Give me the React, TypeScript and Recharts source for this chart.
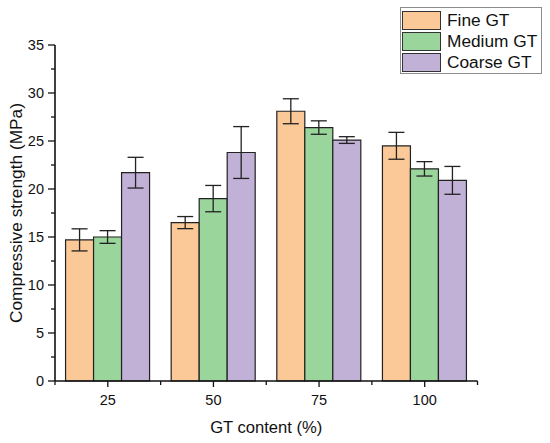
import React from 'react';
import { BarChart, Bar, XAxis, YAxis, ErrorBar, Legend, Label } from 'recharts';

const categories = ['25', '50', '75', '100'];
const fineValues = [14.7, 16.5, 28.1, 24.5];
const fineErrors = [1.15, 0.63, 1.3, 1.4];
const mediumValues = [15.0, 19.0, 26.4, 22.1];
const mediumErrors = [0.66, 1.37, 0.7, 0.75];
const coarseValues = [21.7, 23.8, 25.1, 20.9];
const coarseErrors = [1.6, 2.7, 0.35, 1.45];
const yMajorTicks = [0, 5, 10, 15, 20, 25, 30, 35];
const yMinorTicks = [2.5, 7.5, 12.5, 17.5, 22.5, 27.5, 32.5];

const seriesNames = ['Fine GT', 'Medium GT', 'Coarse GT'];
const seriesColors = ['#FBC898', '#9AD69B', '#C1B1D7'];

const data = categories.map((c, i) => ({
  category: c,
  fine: fineValues[i],
  fineErr: fineErrors[i],
  medium: mediumValues[i],
  mediumErr: mediumErrors[i],
  coarse: coarseValues[i],
  coarseErr: coarseErrors[i],
}));

const FONT = "Arial, 'Liberation Sans', sans-serif";
const AXIS_COLOR = '#111';

const YTick = (props: any) => {
  const { x, y, payload } = props;
  const major = yMajorTicks.includes(payload.value);
  return (
    <g>
      <line x1={x - (major ? 7 : 4)} x2={x} y1={y} y2={y} stroke={AXIS_COLOR} strokeWidth={1.3} />
      {major && (
        <text x={x - 11} y={y + 5} textAnchor="end" fontSize={14.5} fontFamily={FONT} fill="#111">
          {payload.value}
        </text>
      )}
    </g>
  );
};

const XTick = (props: any) => {
  const { x, y, payload, width, index } = props;
  const half = payload.offset && payload.offset > 0 ? payload.offset : width / categories.length / 2;
  const last = index === categories.length - 1;
  return (
    <g>
      <line x1={x} x2={x} y1={y} y2={y + 6} stroke={AXIS_COLOR} strokeWidth={1.3} />
      <line x1={x - half} x2={x - half} y1={y} y2={y + 4} stroke={AXIS_COLOR} strokeWidth={1.3} />
      {last && <line x1={x + half} x2={x + half} y1={y} y2={y + 4} stroke={AXIS_COLOR} strokeWidth={1.3} />}
      <text x={x} y={y + 24} textAnchor="middle" fontSize={14.5} fontFamily={FONT} fill="#111">
        {payload.value}
      </text>
    </g>
  );
};

const LegendBox = () => (
  <div
    style={{
      boxSizing: 'border-box',
      width: 142,
      height: 67,
      border: '1px solid #8c8c8c',
      background: '#fff',
      padding: '2px 0 0 1px',
      fontFamily: FONT,
    }}
  >
    {seriesNames.map((name, i) => (
      <div key={name} style={{ display: 'flex', alignItems: 'center', height: 21.2 }}>
        <div
          style={{
            boxSizing: 'border-box',
            width: 39,
            height: 19,
            background: seriesColors[i],
            border: '1.5px solid #333',
          }}
        />
        <span style={{ marginLeft: 6, fontSize: 17.3, color: '#111', lineHeight: '19px' }}>{name}</span>
      </div>
    ))}
  </div>
);

const YLabel = (props: any) => {
  const vb = props.viewBox;
  const cx = vb.x + 15.5;
  const cy = vb.y + vb.height / 2;
  return (
    <text
      x={cx}
      y={cy}
      transform={`rotate(-90 ${cx} ${cy})`}
      textAnchor="middle"
      dominantBaseline="central"
      fontSize={17.3}
      fontFamily={FONT}
      fill="#111"
    >
      Compressive strength (MPa)
    </text>
  );
};

const XLabel = (props: any) => {
  const vb = props.viewBox;
  return (
    <text
      x={vb.x + vb.width / 2}
      y={vb.y + 52}
      textAnchor="middle"
      fontSize={16.6}
      fontFamily={FONT}
      fill="#111"
    >
      GT content (%)
    </text>
  );
};

export default function App() {
  return (
    <div style={{ position: 'absolute', left: 0, top: 0, width: 550, height: 443, background: '#fff' }}>
      <BarChart
        width={550}
        height={443}
        data={data}
        margin={{ top: 45, right: 72.5, bottom: 61, left: 0 }}
        barCategoryGap="10%"
        barGap={0}
      >
        <XAxis
          dataKey="category"
          height={1}
          tickSize={0}
          tickMargin={0}
          tickLine={false}
          axisLine={{ stroke: AXIS_COLOR, strokeWidth: 1.6 }}
          tick={<XTick />}
          interval={0}
        >
          <Label content={<XLabel />} />
        </XAxis>
        <YAxis
          width={55}
          domain={[0, 35]}
          ticks={[...yMajorTicks, ...yMinorTicks].sort((a, b) => a - b)}
          interval={0}
          tickSize={0}
          tickMargin={0}
          tickLine={false}
          axisLine={{ stroke: AXIS_COLOR, strokeWidth: 1.6 }}
          tick={<YTick />}
        >
          <Label content={<YLabel />} />
        </YAxis>
        <Legend
          layout="vertical"
          align="center"
          verticalAlign="middle"
          content={<LegendBox />}
          wrapperStyle={{ position: 'absolute', left: 400, top: 7, width: 142, height: 67 }}
        />
        <Bar dataKey="fine" name={seriesNames[0]} fill={seriesColors[0]} stroke="#222" strokeWidth={1.2} isAnimationActive={false}>
          <ErrorBar dataKey="fineErr" width={8} stroke="#222" strokeWidth={1.3} direction="y" isAnimationActive={false} />
        </Bar>
        <Bar dataKey="medium" name={seriesNames[1]} fill={seriesColors[1]} stroke="#222" strokeWidth={1.2} isAnimationActive={false}>
          <ErrorBar dataKey="mediumErr" width={8} stroke="#222" strokeWidth={1.3} direction="y" isAnimationActive={false} />
        </Bar>
        <Bar dataKey="coarse" name={seriesNames[2]} fill={seriesColors[2]} stroke="#222" strokeWidth={1.2} isAnimationActive={false}>
          <ErrorBar dataKey="coarseErr" width={8} stroke="#222" strokeWidth={1.3} direction="y" isAnimationActive={false} />
        </Bar>
      </BarChart>
    </div>
  );
}
